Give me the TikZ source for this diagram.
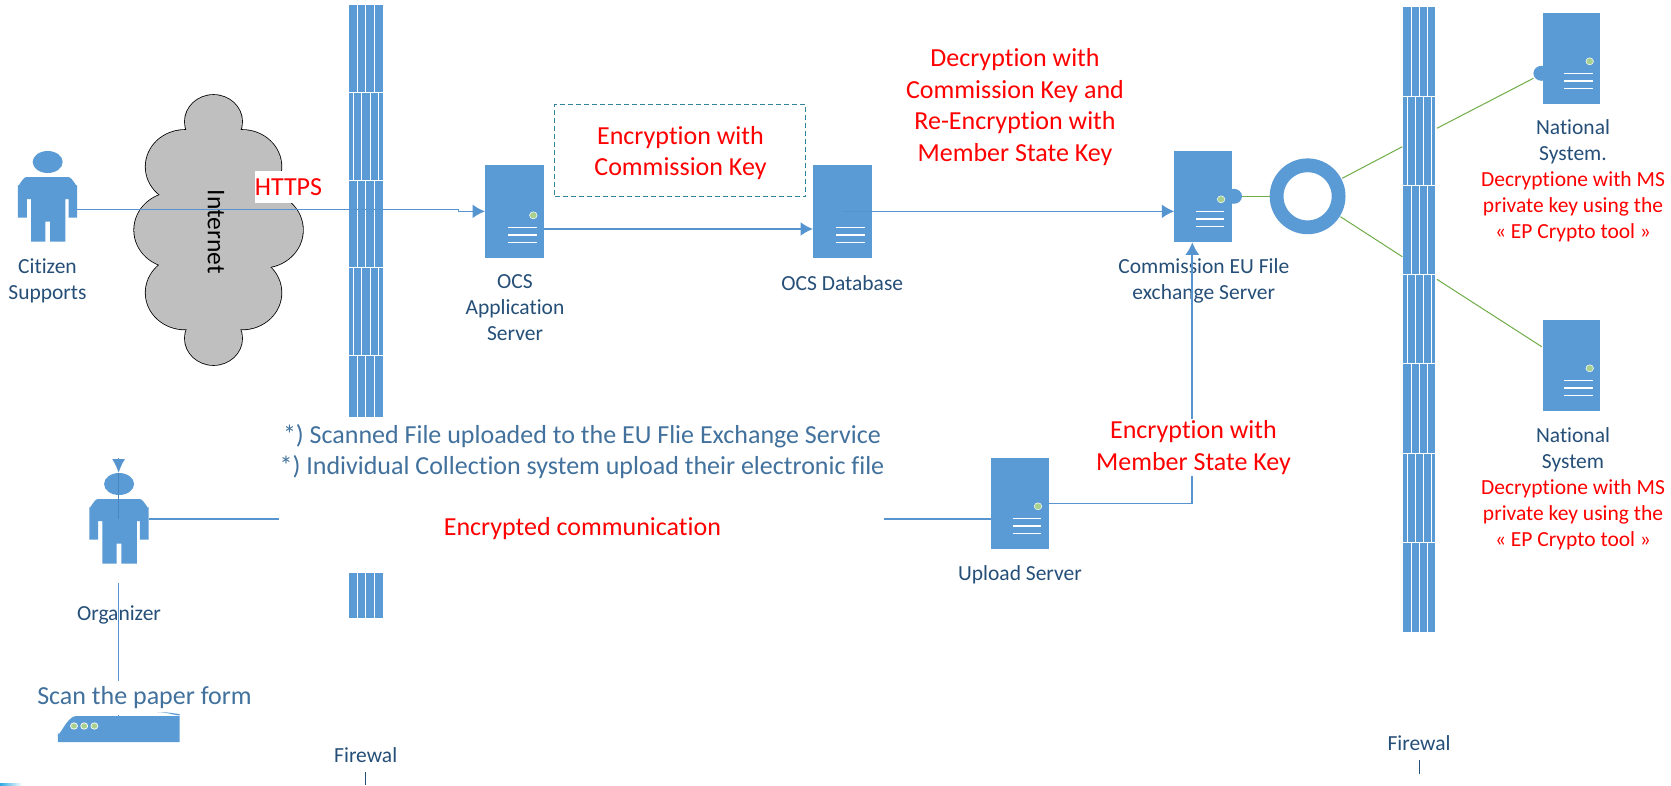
\documentclass[tikz,border=0pt]{standalone}
\usepackage{fontspec}
\setmainfont[Ligatures=NoCommon]{Carlito}
\usetikzlibrary{arrows.meta,shapes.geometric}
\definecolor{netblue}{HTML}{5B9BD5}
\definecolor{linkblue}{HTML}{5694CF}
\definecolor{darkline}{HTML}{4A86BE}
\definecolor{lamp}{HTML}{A9D18E}
\definecolor{labelblue}{HTML}{264F78}
\definecolor{midblue}{HTML}{41719C}
\definecolor{tealline}{HTML}{31859C}
\definecolor{wire}{HTML}{70AD47}
\definecolor{cloudgrey}{HTML}{BFBFBF}
\definecolor{sliver}{HTML}{2EA8E0}
\tikzset{
  srvnode/.style={rectangle,fill=netblue,inner sep=0pt,outer sep=0pt},
  srvbar/.style={white,line width=1.5pt},
  lamplight/.style={fill=lamp,draw=white,line width=.5pt},
  conn/.style={linkblue,line width=1.7pt},
  arr/.style={conn,-{Latex[length=12.5pt,width=14pt]}},
  greenwire/.style={wire,line width=1pt},
  lab/.style={text=labelblue,align=center,inner sep=0pt,font=\fontsize{21.5}{26}\selectfont},
  redlab/.style={text=red,align=center,inner sep=0pt,font=\fontsize{26}{31.7}\selectfont},
  bluelab/.style={text=midblue,inner sep=0pt,font=\fontsize{26}{30}\selectfont},
  bodybox/.style={inner sep=0pt,outer sep=0pt,minimum width=59.3pt,minimum height=64.7pt}
}
\newcommand{\srvbox}[6]{%
  \node[srvnode,minimum width=#4pt,minimum height=#5pt] (#1) at (#2,#3) {};
  \ifnum#6=1 \path[lamplight] ([shift={(-10.7,-42.4)}]#1.south east) ellipse (3.8pt and 3.5pt);\fi
  \foreach \yy in {-30,-22.7,-15.4}{
    \draw[srvbar] ([shift={(-36,\yy)}]#1.south east) -- ++(28.5,0);}
}
\newcommand{\personfig}[3]{%
  \begin{scope}[shift={(#2,#3)},xscale=1.0714]
    \fill[netblue] (44.5,162) ellipse (14pt and 11pt);
    \fill[netblue] (16.7,217.7) -- (16.7,185) to[out=-90,in=180] (25,177) -- (63.5,177)
      to[out=0,in=-90] (72,185) -- (72,217.7) -- (64,217.7) -- (64,199) -- (61,199)
      -- (61,241.7) -- (46.7,241.7) -- (46.7,221.7) -- (42.3,221.7) -- (42.3,241.7)
      -- (29,241.7) -- (29,199) -- (25,199) -- (25,217.7) -- cycle;
    \node[bodybox] (#1) at (44.35,209.35) {};
  \end{scope}
}
\newcommand{\fwall}[5]{%
  \fill[netblue] (#1,#3) rectangle (#2,#4);
  \foreach \ya/\yb/\kind in {#5}{
    \draw[white,line width=.9pt] (#1,\yb) -- (#2,\yb);
    \ifnum\kind=0
      \foreach \f in {.25,.5,.75}{\draw[white,line width=.9pt] ({#1+\f*(#2-#1)},\ya) -- ({#1+\f*(#2-#1)},\yb);}
    \else
      \foreach \f in {.125,.375,.625,.875}{\draw[white,line width=.9pt] ({#1+\f*(#2-#1)},\ya) -- ({#1+\f*(#2-#1)},\yb);}
    \fi
  }
}
\begin{document}
\begin{tikzpicture}[x=1pt,y=-1pt]
\useasboundingbox (0,0) rectangle (1671,785);
\fill[white] (0,0) rectangle (1671,785);

% cloud
\foreach \cx/\cy/\rx/\ry in {213.5/121.7/28.6/26.7,185/166.7/39.3/36.7,242.1/166.7/39.3/36.7,174.6/230/40.4/37.7,262.5/230/40.4/37.7,185/292.7/39.3/36.7,242.1/292.7/39.3/36.7,213.5/338.3/28.6/26.7}{
  \draw[black,line width=1.6pt] (\cx,\cy) ellipse (\rx pt and \ry pt);}
\foreach \cx/\cy/\rx/\ry in {213.5/121.7/28.6/26.7,185/166.7/39.3/36.7,242.1/166.7/39.3/36.7,174.6/230/40.4/37.7,262.5/230/40.4/37.7,185/292.7/39.3/36.7,242.1/292.7/39.3/36.7,213.5/338.3/28.6/26.7}{
  \fill[cloudgrey] (\cx,\cy) ellipse (\rx pt and \ry pt);}
\fill[cloudgrey] (177,140) rectangle (252,320);
\node[rotate=-90,black,inner sep=0pt,font=\fontsize{25.5}{30}\selectfont] (internet) at (216,231.7) {Internet};

% firewalls
\fwall{349.3}{382.5}{5}{618}{5/92.5/0,92.5/180/1,180/267.5/0,267.5/355/1,355/442.5/0,530/618/0}
\fwall{1403.3}{1435.3}{7}{632}{7/96/0,96/185/1,185/274/0,274/363/1,363/453/0,453/542/1,542/632/0}

% people
\personfig{citizen}{0}{0}
\personfig{organizer}{71.4}{322}

% labels beneath connectors
\node[lab] (citlab) at (47.5,281) {Citizen\\Supports};
\node[lab] (applab) at (515,308) {OCS\\Application\\Server};
\node[lab] (dblab) at (842.3,282.7) {OCS Database};
\node[lab] (comlab) at (1203.8,280.7) {Commission EU File\\exchange Server};
\node[lab] (orglab) at (119,615.3) {Organizer};
\node[lab] (uplab) at (1020,574.7) {Upload Server};
\node[lab] (fw1lab) at (365.7,755) {Firewal};
\node[lab] (fw2lab) at (1419.1,743) {Firewal};
\coordinate (fw1a) at (365.7,771.7);
\coordinate (fw1b) at (365.7,785);
\coordinate (fw2a) at (1419.1,760);
\coordinate (fw2b) at (1419.1,774);
\draw[labelblue,line width=1pt] (fw1a) -- (fw1b);
\draw[labelblue,line width=1pt] (fw2a) -- (fw2b);

% knobs
\fill[netblue] (1233.8,196.3) ellipse (8.2pt and 7.5pt);
\fill[netblue] (1541.6,73.3) ellipse (8.2pt and 7.5pt);

% servers
\srvbox{srvA}{514.5}{211.35}{59}{92.7}{1}
\srvbox{srvB}{842.6}{211.35}{59.2}{92.7}{0}
\srvbox{srvC}{1203}{196.35}{57.5}{90.7}{1}
\srvbox{srvD}{1571.6}{58.35}{57.6}{90.7}{1}
\srvbox{srvE}{1571.6}{365.35}{57.6}{90.7}{1}
\srvbox{srvF}{1019.85}{503.35}{57.7}{90.7}{1}

% ring
\node[ellipse,draw=netblue,line width=13.8pt,inner sep=0pt,minimum width=62pt,minimum height=62pt,fill=white] (ring) at (1307.6,196.3) {};

% green wires
\coordinate (ga1) at (1342.2,178.3);
\coordinate (ga2) at (1402.3,146.7);
\coordinate (ga3) at (1436.9,128.3);
\coordinate (ga4) at (1533.4,78.3);
\coordinate (gb1) at (1340.4,216.7);
\coordinate (gb2) at (1402.3,256.7);
\coordinate (gb3) at (1436.9,279.3);
\coordinate (gb4) at (1541.7,346.7);
\coordinate (knobC) at (1242,196.3);
\draw[greenwire] (knobC) -- (ring.west);
\draw[greenwire] (ga1) -- (ga2);
\draw[greenwire] (ga3) -- (ga4);
\draw[greenwire] (gb1) -- (gb2);
\draw[greenwire] (gb3) -- (gb4);

% connectors
\coordinate (jog1) at (458.6,209.35);
\coordinate (jog2) at (458.6,211.35);
\draw[arr] (citizen.east) -- (jog1) -- (jog2) -- (srvA.west);
\draw[arr] (srvA.east |- 0,229) -- (srvB.west |- 0,229);
\draw[arr] (srvB.center) -- (srvC.west |- srvB.center);
\coordinate (elbow) at (1192.3,503.35);
\draw[arr] (srvF.east) -- (elbow) -- (1192.3,242.3);
\draw[conn] (organizer.east |- 0,518.7) -- (srvF.west |- 0,518.7);

% organizer stub, arrow, scanner link
\coordinate (orgtop) at (118.6,458);
\coordinate (orghead) at (118.6,473);
\coordinate (orgin) at (118.6,518.7);
\coordinate (orglow) at (118.6,582.7);
\coordinate (scanpt) at (118.6,716);
\draw[darkline,line width=1.2pt] (orghead) -- (orgin);
\draw[arr,-{Latex[length=14pt,width=13pt]}] (orgtop) -- (orghead);
\draw[conn] (orglow) -- (scanpt);

% mask and middle texts
\node[fill=white,inner sep=0pt,minimum width=605.7pt,minimum height=156pt] (mask) at (581.5,495) {};
\node[bluelab] (mid1) at (582,436) {*) Scanned File uploaded to the EU Flie Exchange Service};
\node[bluelab] (mid2) at (582,467) {*) Individual Collection system upload their electronic file};
\node[redlab] (enccom) at (582.4,528.7) {Encrypted communication};

% red labels
\node[redlab,fill=white,minimum width=67pt,minimum height=32pt] (https) at (288.5,187) {HTTPS};
\node[draw=tealline,dash pattern=on 5pt off 3pt,line width=1pt,redlab,minimum width=250.8pt,minimum height=92.7pt] (enckey) at (680.2,150.35) {};
\node[redlab] (enckeytext) at (680.5,153) {Encryption with\\Commission Key};
\node[redlab] (decr) at (1015,107) {Decryption with\\Commission Key and\\Re-Encryption with\\Member State Key};
\node[redlab,fill=white,inner ysep=2pt] (encms) at (1193.5,447.5) {Encryption with\\Member State Key};
\node[lab] (nat1) at (1573,180.3) {National\\System.\\\textcolor{red}{Decryptione with MS}\\\textcolor{red}{private key using the}\\\textcolor{red}{« EP Crypto tool »}};
\node[lab] (nat2) at (1573,488.6) {National\\System\\\textcolor{red}{Decryptione with MS}\\\textcolor{red}{private key using the}\\\textcolor{red}{« EP Crypto tool »}};

% scan label and scanner
\node[bluelab,fill=white,minimum height=34pt] (scanlab) at (144.5,697.5) {Scan the paper form};
\fill[netblue] (57.9,742) -- (57.9,732) to[out=-90,in=180] (76,716) -- (179.6,716) -- (179.6,742) -- cycle;
\fill[netblue] (157,712.3) to[out=5,in=175] (179.6,715.5) -- (179.6,714) to[out=175,in=5] cycle;
\foreach \lx in {74,84.2,94.4}{\path[lamplight,line width=.7pt] (\lx,726) ellipse (3.5pt and 3.2pt);}

% corner sliver
\shade[left color=sliver,right color=white] (0,783) rectangle (22,785);
\end{tikzpicture}
\end{document}
